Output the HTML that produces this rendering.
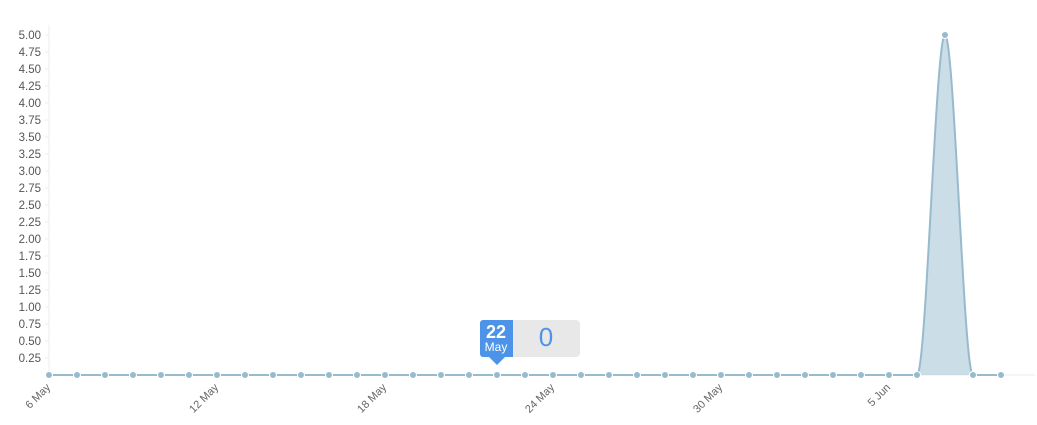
<!DOCTYPE html>
<html><head><meta charset="utf-8"><style>
body{margin:0;background:#fff;width:1037px;height:420px;overflow:hidden;font-family:"Liberation Sans",sans-serif}
</style></head><body>
<svg width="1037" height="420" id="c" xmlns="http://www.w3.org/2000/svg"></svg>
<script>
const dates=["6 May","7 May","8 May","9 May","10 May","11 May","12 May","13 May","14 May","15 May","16 May","17 May","18 May","19 May","20 May","21 May","22 May","23 May","24 May","25 May","26 May","27 May","28 May","29 May","30 May","31 May","1 Jun","2 Jun","3 Jun","4 Jun","5 Jun","6 Jun","7 Jun","8 Jun","9 Jun"];
const values=[0,0,0,0,0,0,0,0,0,0,0,0,0,0,0,0,0,0,0,0,0,0,0,0,0,0,0,0,0,0,0,0,5,0,0];
const xLabels=["6 May","12 May","18 May","24 May","30 May","5 Jun"];
const yTicks=[0.25,0.5,0.75,1,1.25,1.5,1.75,2,2.25,2.5,2.75,3,3.25,3.5,3.75,4,4.25,4.5,4.75,5];
const tipIndex=16;
const NS="http://www.w3.org/2000/svg",svg=document.getElementById('c');
const X=i=>49+i*28, Y=v=>375-v*68;
function mk(t,a,p){const e=document.createElementNS(NS,t);for(const k in a)e.setAttribute(k,a[k]);(p||svg).appendChild(e);return e;}
let ax=mk('line',{x1:49,y1:25,x2:49,y2:375,stroke:'#eee'});

let bx=mk('line',{x1:49,y1:375,x2:1035,y2:375,stroke:'#eee'});

yTicks.forEach(v=>{
 let t=mk('text',{x:41,y:Y(v)+4,'text-anchor':'end','font-size':11.5,fill:'#555'});t.textContent=v.toFixed(2);
 
 let l=mk('line',{x1:45,y1:Y(v),x2:49,y2:Y(v),stroke:'#eee'});
 
});
xLabels.forEach(s=>{const i=dates.indexOf(s);const x=X(i)+2,y=388;
 let t=mk('text',{x:x,y:y,'text-anchor':'end','font-size':11,fill:'#666',transform:`rotate(-45 ${x} ${y})`});t.textContent=s;
 
});
const pts=values.map((v,i)=>[X(i),Y(v)]);const n=pts.length;
const d=[],m=[];for(let i=0;i<n-1;i++)d.push((pts[i+1][1]-pts[i][1])/(pts[i+1][0]-pts[i][0]));
for(let i=0;i<n;i++){if(i==0)m.push(d[0]);else if(i==n-1)m.push(d[n-2]);else m.push(d[i-1]*d[i]<=0?0:(d[i-1]+d[i])/2);}
let p=`M${pts[0][0]},${pts[0][1]}`;
for(let i=0;i<n-1;i++){const h=(pts[i+1][0]-pts[i][0])/3;p+=` C${pts[i][0]+h},${pts[i][1]+m[i]*h} ${pts[i+1][0]-h},${pts[i+1][1]-m[i+1]*h} ${pts[i+1][0]},${pts[i+1][1]}`;}
let area=mk('path',{d:p+` L${pts[n-1][0]},375 L${pts[0][0]},375Z`,fill:'rgba(151,187,205,0.5)'});

let line=mk('path',{d:p,fill:'none',stroke:'#97bbcd','stroke-width':2});

pts.forEach(q=>{let c=mk('circle',{cx:q[0],cy:q[1],r:3.5,fill:'#97bbcd',stroke:'#fff','stroke-width':1});
 });
const tx=X(tipIndex);const g=mk('g',{});

mk('rect',{x:tx+2,y:320,width:81,height:37,rx:4,fill:'#e8e8e8'},g);
mk('rect',{x:tx-17,y:320,width:33,height:37,rx:3,fill:'#4d94e8'},g);
mk('rect',{x:tx+5,y:320,width:11,height:37,fill:'#4d94e8'},g);
mk('path',{d:`M${tx-8},357 L${tx},365 L${tx+8},357Z`,fill:'#4d94e8'},g);
const [dd,mm]=dates[tipIndex].split(' ');
let t1=mk('text',{x:tx-1,y:338,'text-anchor':'middle','font-size':18,'font-weight':'bold',fill:'#fff'},g);t1.textContent=dd;
let t2=mk('text',{x:tx-1,y:351,'text-anchor':'middle','font-size':12,fill:'#fff'},g);t2.textContent=mm;
let t3=mk('text',{x:tx+49,y:346,'text-anchor':'middle','font-size':26,fill:'#4d94e8'},g);t3.textContent=values[tipIndex];
</script>
</body></html>
